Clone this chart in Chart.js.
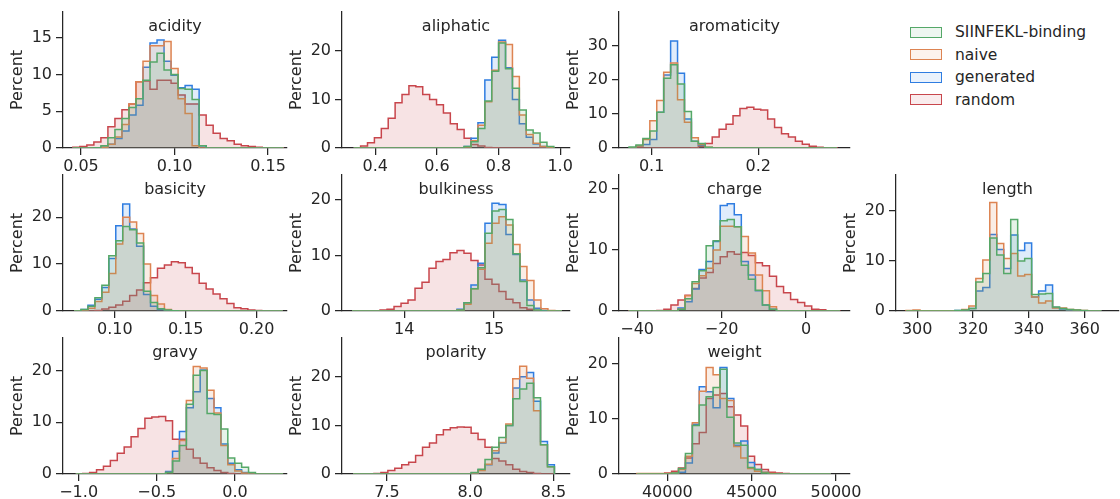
<!DOCTYPE html>
<html><head><meta charset="utf-8">
<script src="https://cdn.jsdelivr.net/npm/chart.js@4.4.1/dist/chart.umd.min.js"></script>
<style>
html,body{margin:0;padding:0;background:#fff;}
body{width:1120px;height:499px;overflow:hidden;position:relative;font-family:'DejaVu Sans',sans-serif;color:#262626;}
canvas{position:absolute;}
.lg{position:absolute;left:910px;width:30px;height:9px;border:1.5px solid;}
.lt{position:absolute;left:955px;font-size:15.5px;line-height:18px;color:#262626;white-space:nowrap;}
</style></head><body>
<script>
// ---- series ----
const seriesNames = ['SIINFEKL-binding', 'naive', 'generated', 'random'];
const seriesColors = ['#55a868', '#dd8452', '#2f7de1', '#c8464c'];

// ---- acidity ----
const acidityBins = [0.04565, 0.00375];
const acidityBinding = [0,0,0,0.05,0.3,1.4,2.5,4.0,5.5,6.7,9.2,11.7,12.9,10.6,10.0,8.1,8.0,6.6,0.3,0,0,0,0,0,0,0,0,0,0,0];
const acidityNaive = [0,0,0,0,0.1,0.5,1.5,3.2,6.0,9.0,11.8,13.9,13.9,14.5,10.8,6.7,4.7,0.3,0,0,0,0,0,0,0,0,0,0,0,0];
const acidityGenerated = [0,0,0,0,0.1,0.5,1.3,2.3,4.5,5.8,11.0,14.3,14.7,11.8,9.9,8.2,8.5,8.0,0.3,0,0,0,0,0,0,0,0,0,0,0];
const acidityRandom = [0.1,0.2,0.4,0.8,1.4,2.9,4.0,5.2,6.0,9.0,9.1,8.0,9.2,9.2,8.8,7.2,6.0,6.0,4.5,3.1,2.0,1.3,1.0,0.5,0.3,0.2,0.1,0.05,0,0.02];
const acidityXTicks = [0.05, 0.10, 0.15];
const acidityXLabels = ['0.05', '0.10', '0.15'];
const acidityYTicks = [0, 5, 10, 15];

// ---- aliphatic ----
const aliphaticBins = [0.330, 0.0224];
const aliphaticBinding = [0,0,0,0,0,0,0,0,0,0,0,0,0,0,0,0,0.3,1.3,4.0,9.7,15.8,21.6,16.3,12.3,7.8,3.7,3.1,1.2,0.3];
const aliphaticNaive = [0,0,0,0,0,0,0,0,0,0,0,0,0,0,0,0,0.2,1.5,4.7,9.5,16.0,21.8,21.3,14.7,6.8,2.8,1.0,0.3,0.05];
const aliphaticGenerated = [0,0,0,0,0,0,0,0,0,0,0,0,0,0,0,0,0.3,2.0,5.2,14.0,18.7,22.2,16.5,10.0,5.0,2.2,0.8,0.3,0];
const aliphaticRandom = [0,0.4,1.1,2.1,4.0,6.1,9.3,11.0,12.8,12.6,11.0,10.0,8.9,7.2,5.0,3.8,2.0,0.7,0.4,0.1,0.05,0,0,0,0,0,0,0,0];
const aliphaticXTicks = [0.4, 0.6, 0.8, 1.0];
const aliphaticXLabels = ['0.4', '0.6', '0.8', '1.0'];
const aliphaticYTicks = [0, 10, 20];

// ---- aromaticity ----
const aromaticityBins = [0.0788, 0.0065];
const aromaticityBinding = [0.3,0.9,2.8,5.0,10.5,20.5,24.5,18.8,10.7,2.0,1.3,0.2,0,0,0,0,0,0,0,0,0,0,0,0,0,0,0,0,0,0];
const aromaticityNaive = [0,0.6,2.5,8.0,14.0,22.3,25.0,14.2,7.6,3.0,1.0,0.2,0,0,0,0,0,0,0,0,0,0,0,0,0,0,0,0,0,0];
const aromaticityGenerated = [0,0.5,1.0,2.5,10.5,21.5,31.5,22.0,8.5,2.0,0.8,0.1,0,0,0,0,0,0,0,0,0,0,0,0,0,0,0,0,0,0];
const aromaticityRandom = [0,0,0,0,0,0,0,0,0,0.05,0.5,1.3,3.2,5.5,7.0,9.5,11.6,12.0,11.4,11.2,8.5,6.0,4.2,3.2,2.0,1.1,0.5,0.2,0.05,0.05];
const aromaticityXTicks = [0.1, 0.2];
const aromaticityXLabels = ['0.1', '0.2'];
const aromaticityYTicks = [0, 10, 20, 30];

// ---- basicity ----
const basicityBins = [0.0713, 0.0049];
const basicityBinding = [0,0.3,1.0,2.8,5.5,11.8,15.0,18.0,17.3,14.5,4.2,1.8,0.5,0.2,0.05,0,0,0,0,0,0,0,0,0,0,0,0,0,0,0];
const basicityNaive = [0,0.2,0.6,2.0,4.0,8.0,14.3,20.0,19.0,16.5,10.0,3.3,1.5,0.3,0.05,0,0,0,0,0,0,0,0,0,0,0,0,0,0,0];
const basicityGenerated = [0,0.3,1.2,2.5,5.0,11.2,18.2,22.8,17.5,13.8,3.5,1.0,0.3,0.2,0,0,0,0,0,0,0,0,0,0,0,0,0,0,0,0];
const basicityRandom = [0,0,0,0.1,0.4,0.8,1.3,2.1,3.3,4.5,6.0,7.1,9.1,9.8,10.5,10.3,9.3,8.0,5.9,4.7,3.6,2.6,1.6,0.7,0.5,0.2,0.1,0.05,0,0];
const basicityXTicks = [0.10, 0.15, 0.20];
const basicityXLabels = ['0.10', '0.15', '0.20'];
const basicityYTicks = [0, 10, 20];

// ---- bulkiness ----
const bulkinessBins = [13.42, 0.0778];
const bulkinessBinding = [0,0,0,0,0,0,0,0,0,0,0,0,0,0,0,0.2,1.5,4.0,7.8,14.0,18.0,18.3,16.5,10.3,5.3,1.0,0.2,0,0,0];
const bulkinessNaive = [0,0,0,0,0,0,0,0,0,0,0,0,0,0,0,0.2,1.2,4.0,7.5,12.2,15.8,17.0,15.5,12.0,8.0,5.5,2.0,0.4,0.1,0];
const bulkinessGenerated = [0,0,0,0,0,0,0,0,0,0,0,0,0,0,0,0.3,1.5,4.7,8.6,15.8,19.4,19.2,13.8,10.2,5.6,2.0,0.5,0.1,0,0];
const bulkinessRandom = [0,0,0,0,0.2,0.3,0.8,1.4,2.0,4.1,5.2,7.7,8.9,9.3,10.5,10.9,10.4,9.1,8.3,5.7,4.8,3.5,2.1,1.5,0.6,0.3,0.1,0,0,0];
const bulkinessXTicks = [14, 15];
const bulkinessXLabels = ['14', '15'];
const bulkinessYTicks = [0, 10, 20];

// ---- charge ----
const chargeBins = [-42, 1.6667];
const chargeBinding = [0,0,0,0,0,0,0,0.3,2.0,4.8,6.6,10.7,11.5,14.8,15.0,13.8,7.5,5.2,3.4,1.0,0.3,0,0,0,0,0,0,0,0,0];
const chargeNaive = [0,0,0,0,0,0,0,0.3,2.5,4.5,5.8,7.0,10.0,13.9,13.9,13.8,12.2,9.5,5.9,3.3,0.7,0,0,0,0,0,0,0,0,0];
const chargeGenerated = [0,0,0,0,0,0,0,0.5,1.5,3.6,6.8,8.1,11.4,17.3,17.6,15.8,8.1,5.9,3.3,1.0,0.3,0,0,0,0,0,0,0,0,0];
const chargeRandom = [0.02,0.02,0.02,0.02,0.1,0.3,1.0,1.8,2.6,3.7,5.4,6.3,7.8,8.9,9.7,9.3,9.6,9.1,7.9,7.4,5.7,4.0,3.0,1.9,1.4,0.8,0.3,0.2,0.05,0.02];
const chargeXTicks = [-40, -20, 0];
const chargeXLabels = ['\u221240', '\u221220', '0'];
const chargeYTicks = [0, 10, 20];

// ---- length ----
const lengthBins = [296, 2.5];
const lengthBinding = [0,0,0,0,0,0,0,0.1,0.2,0.5,5.8,7.5,14.6,11.2,7.5,18.3,10.0,10.5,3.3,3.4,3.5,0.8,0.5,0.3,0.2,0.1,0,0];
const lengthNaive = [0.1,0.2,0.05,0.05,0.05,0.05,0.05,0.05,0.3,1.0,6.5,10.2,21.7,13.5,10.5,11.5,7.0,7.3,2.8,1.6,2.0,0.6,0.6,0.3,0.2,0.1,0,0];
const lengthGenerated = [0,0,0,0,0,0,0,0.1,0.2,0.5,4.0,4.7,15.3,12.3,8.5,15.2,12.1,13.6,2.8,4.0,5.2,0.7,0.4,0.2,0.1,0,0,0];
const lengthXTicks = [300, 320, 340, 360];
const lengthXLabels = ['300', '320', '340', '360'];
const lengthYTicks = [0, 10, 20];

// ---- gravy ----
const gravyBins = [-1.018, 0.0442];
const gravyBinding = [0,0,0,0,0,0,0,0,0,0,0,0,0,0.3,2.5,5.5,13.5,19.1,20.0,11.7,11.5,8.7,3.1,2.1,1.3,0.3,0,0,0,0];
const gravyNaive = [0,0,0,0,0,0,0,0,0,0,0,0,0,0.3,3.0,6.5,14.2,20.8,20.5,16.2,11.8,5.5,1.8,0.6,0.2,0,0,0,0,0];
const gravyGenerated = [0,0,0,0,0,0,0,0,0,0,0,0,0,0.5,4.4,8.2,12.8,15.9,20.1,14.6,12.8,5.8,2.1,0.8,0.3,0,0,0,0,0];
const gravyRandom = [0,0.1,0.3,0.8,1.5,2.6,4.0,5.2,7.2,8.8,10.8,11.0,11.1,10.3,6.7,6.7,4.8,3.1,2.1,1.2,0.7,0.3,0.1,0,0,0,0,0,0,0];
const gravyXTicks = [-1.0, -0.5, 0.0];
const gravyXLabels = ['\u22121.0', '\u22120.5', '0.0'];
const gravyYTicks = [0, 10, 20];

// ---- polarity ----
const polarityBins = [7.297, 0.0417];
const polarityBinding = [0,0,0,0,0,0,0,0,0,0,0,0,0,0,0,0,0,0.3,1.0,3.0,5.5,7.5,10.0,15.5,17.5,18.7,15.7,6.0,1.5];
const polarityNaive = [0,0,0,0,0,0,0,0,0,0,0,0,0,0,0,0,0,0.2,0.7,2.0,4.8,6.5,10.3,19.6,22.2,19.7,13.0,6.0,1.5];
const polarityGenerated = [0,0,0,0,0,0,0,0,0,0,0,0,0,0,0,0,0,0.2,0.9,1.9,4.3,6.4,10.0,17.7,20.0,20.9,15.0,6.7,1.9];
const polarityRandom = [0,0,0,0.1,0.3,0.7,1.2,1.9,2.4,3.8,5.5,6.4,8.1,9.1,9.5,9.7,9.6,8.4,7.1,5.5,3.2,2.7,1.9,1.0,0.5,0.3,0.1,0,0];
const polarityXTicks = [7.5, 8.0, 8.5];
const polarityXLabels = ['7.5', '8.0', '8.5'];
const polarityYTicks = [0, 10, 20];

// ---- weight ----
const weightBins = [38203, 410];
const weightBinding = [0,0,0,0,0,0.2,1.0,3.7,8.8,12.5,14.0,15.7,19.0,10.3,5.6,5.2,1.2,0.8,0.2,0,0,0,0,0,0,0,0,0];
const weightNaive = [0.1,0.1,0.1,0.1,0.1,0.2,0.8,3.2,9.3,15.0,19.3,18.0,13.7,13.3,5.0,2.9,1.0,0.5,0.3,0.1,0,0,0,0,0,0,0,0];
const weightGenerated = [0,0,0,0,0,0,0.3,2.0,9.0,15.8,14.9,12.0,19.3,13.7,5.2,6.0,2.1,0.8,0.3,0,0,0,0,0,0,0,0,0];
const weightRandom = [0,0,0,0,0.2,0.5,1.1,2.9,5.5,7.5,13.7,14.3,14.6,12.2,10.7,8.7,3.2,1.7,0.8,0.3,0.2,0.1,0,0,0,0,0,0];
const weightXTicks = [40000, 45000, 50000];
const weightXLabels = ['40000', '45000', '50000'];
const weightYTicks = [0, 10, 20];

// ---- layout (page geometry of each panel's axes) ----
const colL = [63, 342, 619, 896];
const colR = [287, 570, 850, 1119];
const rowT = [12, 175, 338];
const rowB = [148, 311, 474];

const panels = [
  {name:'acidity', c:0, r:0, bins:acidityBins, vals:[acidityBinding, acidityNaive, acidityGenerated, acidityRandom], xr:[0.0404,0.1601], xt:acidityXTicks, xl:acidityXLabels, ymax:18.5, yt:acidityYTicks},
  {name:'aliphatic', c:1, r:0, bins:aliphaticBins, vals:[aliphaticBinding, aliphaticNaive, aliphaticGenerated, aliphaticRandom], xr:[0.292,1.032], xt:aliphaticXTicks, xl:aliphaticXLabels, ymax:28, yt:aliphaticYTicks},
  {name:'aromaticity', c:2, r:0, bins:aromaticityBins, vals:[aromaticityBinding, aromaticityNaive, aromaticityGenerated, aromaticityRandom], xr:[0.0694,0.286], xt:aromaticityXTicks, xl:aromaticityXLabels, ymax:40, yt:aromaticityYTicks},
  {name:'basicity', c:0, r:1, bins:basicityBins, vals:[basicityBinding, basicityNaive, basicityGenerated, basicityRandom], xr:[0.0635,0.2214], xt:basicityXTicks, xl:basicityXLabels, ymax:29, yt:basicityYTicks},
  {name:'bulkiness', c:1, r:1, bins:bulkinessBins, vals:[bulkinessBinding, bulkinessNaive, bulkinessGenerated, bulkinessRandom], xr:[13.308,15.844], xt:bulkinessXTicks, xl:bulkinessXLabels, ymax:24.5, yt:bulkinessYTicks},
  {name:'charge', c:2, r:1, bins:chargeBins, vals:[chargeBinding, chargeNaive, chargeGenerated, chargeRandom], xr:[-44.3,10.4], xt:chargeXTicks, xl:chargeXLabels, ymax:22.3, yt:chargeYTicks},
  {name:'length', c:3, r:1, bins:lengthBins, vals:[lengthBinding, lengthNaive, lengthGenerated, null], xr:[292.4,372.3], xt:lengthXTicks, xl:lengthXLabels, ymax:27.2, yt:lengthYTicks},
  {name:'gravy', c:0, r:2, bins:gravyBins, vals:[gravyBinding, gravyNaive, gravyGenerated, gravyRandom], xr:[-1.1,0.333], xt:gravyXTicks, xl:gravyXLabels, ymax:26.3, yt:gravyYTicks},
  {name:'polarity', c:1, r:2, bins:polarityBins, vals:[polarityBinding, polarityNaive, polarityGenerated, polarityRandom], xr:[7.23,8.6], xt:polarityXTicks, xl:polarityXLabels, ymax:28, yt:polarityYTicks},
  {name:'weight', c:2, r:2, bins:weightBins, vals:[weightBinding, weightNaive, weightGenerated, weightRandom], xr:[37135,50830], xt:weightXTicks, xl:weightXLabels, ymax:24.65, yt:weightYTicks}
];

const INK = '#262626';
const FILL_ALPHA = 0.15;
const YAXW = 63, PADT = 20, PADR = 25, XAXH = 30;

function rgba(hex, a){
  const n = parseInt(hex.slice(1), 16);
  return `rgba(${(n>>16)&255},${(n>>8)&255},${n&255},${a})`;
}
// histogram outline: value of bin i spans [edge i, edge i+1]
function stepPoints(bins, vals){
  const s = bins[0], w = bins[1];
  const pts = [{x:s, y:0}];
  vals.forEach((v, i) => pts.push({x: s + (i + 1)*w, y: v}));
  pts.push({x: s + vals.length*w, y: 0});
  return pts;
}

Chart.defaults.font.family = "'DejaVu Sans', sans-serif";
Chart.defaults.font.size = 16;
Chart.defaults.color = INK;

const panelTitle = {
  id: 'panelTitle',
  afterDraw(chart, args, opts){
    const {ctx, chartArea} = chart;
    ctx.save();
    ctx.font = "16px 'DejaVu Sans', sans-serif";
    ctx.fillStyle = INK;
    ctx.textAlign = 'center';
    ctx.textBaseline = 'middle';
    ctx.fillText(opts.text, (chartArea.left + chartArea.right)/2, chartArea.top + 15);
    ctx.restore();
  }
};

panels.forEach(p => {
  const L = colL[p.c], R = colR[p.c], T = rowT[p.r], B = rowB[p.r];
  const cv = document.createElement('canvas');
  const w = (R - L) + YAXW + PADR, h = (B - T) + PADT + XAXH;
  cv.width = w; cv.height = h;
  cv.style.width = w + 'px'; cv.style.height = h + 'px';
  cv.style.left = (L - YAXW) + 'px'; cv.style.top = (T - PADT) + 'px';
  document.body.appendChild(cv);

  const datasets = [];
  p.vals.forEach((vals, i) => {
    if (!vals) return;
    datasets.push({
      label: seriesNames[i],
      data: stepPoints(p.bins, vals),
      stepped: 'after',
      borderColor: seriesColors[i],
      backgroundColor: rgba(seriesColors[i], FILL_ALPHA),
      borderWidth: 1.5,
      fill: 'origin',
      pointRadius: 0,
      tension: 0
    });
  });

  new Chart(cv, {
    type: 'line',
    data: {datasets},
    options: {
      responsive: false,
      animation: false,
      devicePixelRatio: 1,
      events: [],
      layout: {padding: {left:0, top:PADT, right:PADR, bottom:0}},
      plugins: {legend:{display:false}, tooltip:{enabled:false}, panelTitle:{text:p.name}},
      scales: {
        x: {
          type: 'linear', min: p.xr[0], max: p.xr[1],
          afterBuildTicks: s => { s.ticks = p.xt.map(v => ({value:v})); },
          afterFit: s => { s.height = XAXH; },
          ticks: {autoSkip:false, maxRotation:0, padding:2, color:INK, font:{size:16},
                  callback: (v, i) => p.xl[i]},
          grid: {display:true, drawOnChartArea:false, drawTicks:true, tickLength:7, color:INK, lineWidth:1.25},
          border: {display:true, color:INK, width:1.25}
        },
        y: {
          type: 'linear', min: 0, max: p.ymax,
          afterBuildTicks: s => { s.ticks = p.yt.map(v => ({value:v})); },
          afterFit: s => { s.width = YAXW; },
          ticks: {padding:4, color:INK, font:{size:16}, callback: v => String(v)},
          grid: {display:true, drawOnChartArea:false, drawTicks:true, tickLength:7, color:INK, lineWidth:1.25},
          border: {display:true, color:INK, width:1.25},
          title: {display:true, text:'Percent', color:INK, font:{size:16}, padding:{top:8, bottom:0}}
        }
      }
    },
    plugins: [panelTitle]
  });
});

// ---- legend ----
const legendY = [32.5, 55.3, 77.8, 100.3];
seriesNames.forEach((n, i) => {
  const b = document.createElement('div');
  b.className = 'lg';
  b.style.top = (legendY[i] - 6) + 'px';
  b.style.borderColor = seriesColors[i];
  b.style.background = rgba(seriesColors[i], 0.1);
  document.body.appendChild(b);
  const t = document.createElement('div');
  t.className = 'lt';
  t.textContent = n;
  t.style.top = (legendY[i] - 9.5) + 'px';
  document.body.appendChild(t);
});
</script>
</body></html>
